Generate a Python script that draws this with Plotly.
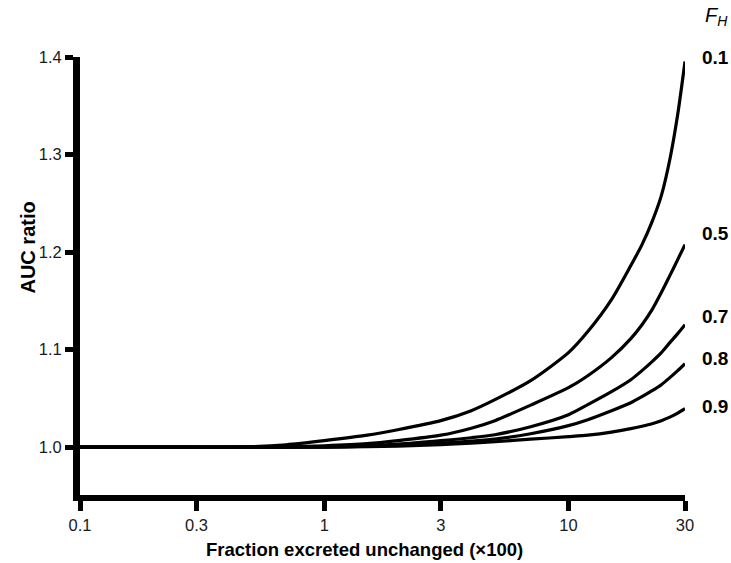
import plotly.graph_objects as go

# ---- data ----
fh_labels = ["0.1", "0.5", "0.7", "0.8", "0.9"]

x_vals = [0.1, 0.3, 0.5, 0.7, 1, 1.5, 2, 3, 4, 5, 7, 10, 12, 15, 18, 20, 22, 24, 26, 28, 30]

y_fh01 = [1.000, 1.000, 1.0005, 1.0025, 1.0067, 1.0123, 1.0179, 1.0272, 1.0374, 1.0487, 1.0682,
          1.0969, 1.1185, 1.1513, 1.1862, 1.2077, 1.2313, 1.2579, 1.2949, 1.3410, 1.3954]
y_fh05 = [1.000, 1.000, 1.000, 1.0005, 1.0015, 1.0036, 1.0067, 1.0123, 1.0195, 1.0272, 1.0431,
          1.0610, 1.0733, 1.0918, 1.1113, 1.1256, 1.1410, 1.1585, 1.1759, 1.1923, 1.2077]
y_fh07 = [1.000, 1.000, 1.000, 1.000, 1.0005, 1.0015, 1.0031, 1.0067, 1.0097, 1.0128, 1.0210,
          1.0333, 1.0436, 1.0569, 1.0692, 1.0785, 1.0877, 1.0969, 1.1072, 1.1164, 1.1256]
y_fh08 = [1.000, 1.000, 1.000, 1.000, 1.000, 1.001, 1.0021, 1.0041, 1.0062, 1.0082, 1.0138,
          1.0221, 1.0282, 1.0374, 1.0456, 1.0518, 1.0579, 1.0641, 1.0713, 1.0785, 1.0856]
y_fh09 = [1.000, 1.000, 1.000, 1.000, 1.000, 1.0005, 1.001, 1.0026, 1.0041, 1.0056, 1.0082,
          1.0108, 1.0123, 1.0154, 1.0190, 1.0215, 1.0241, 1.0272, 1.0308, 1.0349, 1.0395]

x_tickvals = [0.1, 0.3, 1, 3, 10, 30]
x_ticktext = ["0.1", "0.3", "1", "3", "10", "30"]
y_tickvals = [1.0, 1.1, 1.2, 1.3, 1.4]
y_ticktext = ["1.0", "1.1", "1.2", "1.3", "1.4"]

# label positions (y in data units) for the right-hand F_H labels
label_y = [1.400, 1.219, 1.134, 1.091, 1.042]

series = [y_fh01, y_fh05, y_fh07, y_fh08, y_fh09]

FONT = "Liberation Sans, Arial, Helvetica, sans-serif"

fig = go.Figure()
for ys, name in zip(series, fh_labels):
    fig.add_trace(go.Scatter(x=x_vals, y=ys, mode="lines", name=name,
                             line=dict(color="black", width=3.2, shape="spline", smoothing=0.7),
                             hoverinfo="skip", showlegend=False))

for name, ly in zip(fh_labels, label_y):
    fig.add_annotation(xref="paper", yref="y", x=1, y=ly, xshift=30,
                       text="<b>" + name + "</b>", showarrow=False, xanchor="center", yanchor="middle",
                       font=dict(family=FONT, size=19, color="black"))

fig.add_annotation(xref="paper", yref="paper", x=1, y=1, xshift=31, yshift=41,
                   text="<i>F</i><sub><i>H</i></sub>", showarrow=False,
                   xanchor="center", yanchor="middle",
                   font=dict(family=FONT, size=20, color="black"))

fig.add_annotation(xref="paper", yref="paper", x=0.47, y=0, yshift=-54,
                   text="<b>Fraction excreted unchanged (×100)</b>", showarrow=False,
                   xanchor="center", yanchor="middle",
                   font=dict(family=FONT, size=18.5, color="black"))

fig.add_annotation(xref="paper", yref="paper", x=0, y=0.565, xshift=-52,
                   text="<b>AUC ratio</b>", textangle=-90, showarrow=False,
                   xanchor="center", yanchor="middle",
                   font=dict(family=FONT, size=20, color="black"))

fig.update_layout(
    width=731, height=563,
    margin=dict(l=80, r=46, t=57, b=68),
    paper_bgcolor="white", plot_bgcolor="white",
    font=dict(family=FONT, size=15, color="#111"),
)

fig.update_xaxes(type="log", range=[-1, 1.4771], showgrid=False, zeroline=False,
                 showline=True, linewidth=6, linecolor="black",
                 tickvals=x_tickvals, ticktext=x_ticktext,
                 ticks="outside", ticklen=10, tickwidth=5, tickcolor="black",
                 tickfont=dict(family=FONT, size=16.5, color="#1a1a1a"))
fig.update_yaxes(range=[0.951, 1.4], showgrid=False, zeroline=False,
                 showline=True, linewidth=7, linecolor="black",
                 tickvals=y_tickvals, ticktext=y_ticktext,
                 ticks="outside", ticklen=8, tickwidth=5, tickcolor="black",
                 tickfont=dict(family=FONT, size=16.5, color="#1a1a1a"))

fig.write_html("out.html")
